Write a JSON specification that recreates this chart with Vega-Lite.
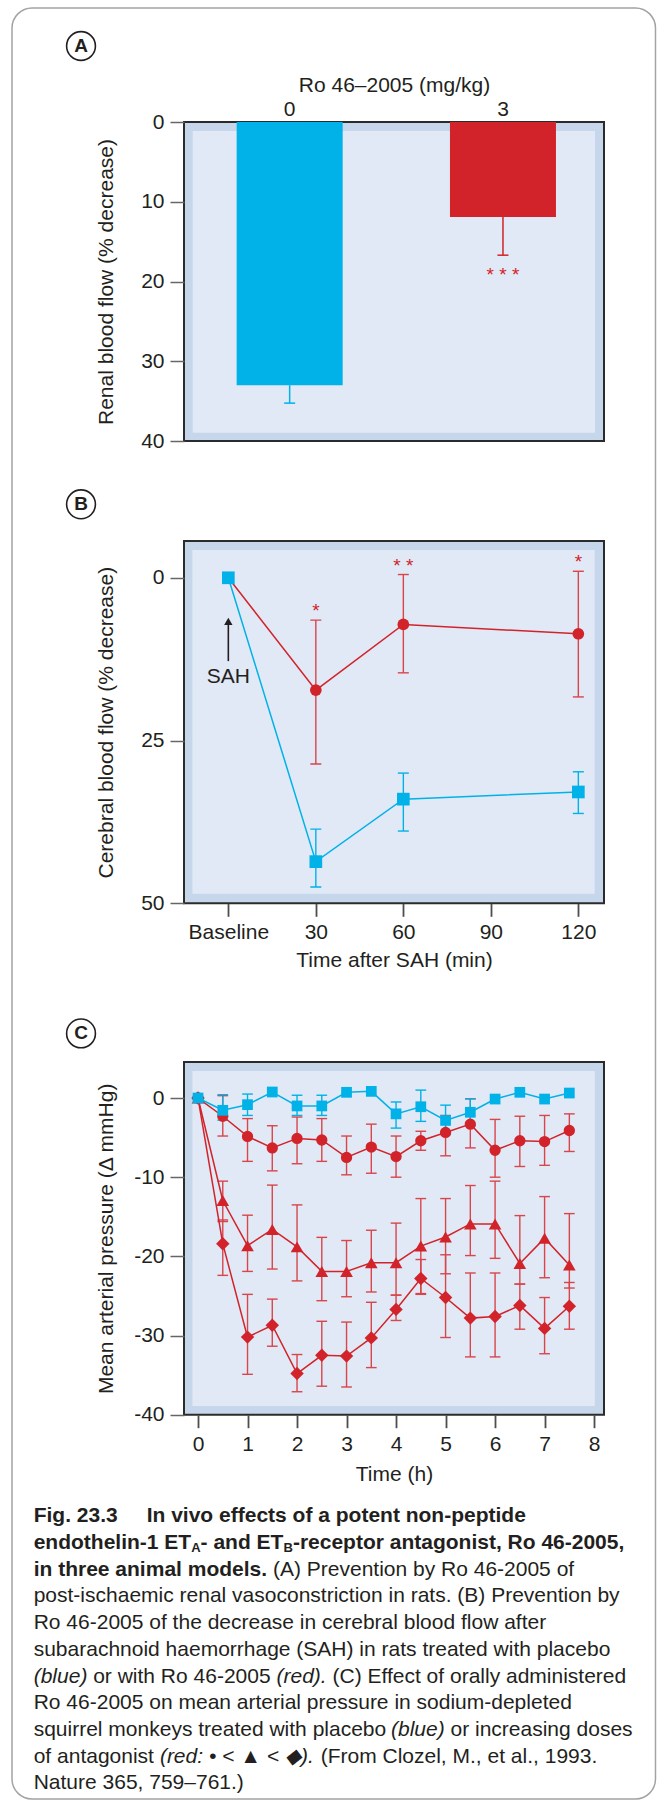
{
  "$schema": "https://vega.github.io/schema/vega-lite/v6.json",
  "background": "white",
  "padding": {"left": 10, "top": 6, "right": 0, "bottom": 0},
  "bounds": "flush",
  "spacing": 0,
  "config": {
    "font": "Liberation Sans",
    "view": {"fill": "#c6d7ec", "stroke": "#2b2b2b", "strokeWidth": 2},
    "axis": {"grid": false, "domain": false, "labelFont": "Liberation Sans", "titleFont": "Liberation Sans", "labelColor": "#231f20", "titleColor": "#231f20", "labelFontSize": 21, "titleFontSize": 21, "titleFontWeight": "normal", "tickColor": "#666666", "tickWidth": 1.5, "labelFlush": false, "labelOverlap": false},
    "text": {"font": "Liberation Sans", "color": "#231f20"}
  },
  "vconcat": [
    {
      "width": 420,
      "height": 319,
      "resolve": {"scale": {"x": "independent"}},
      "layer": [
        {
          "data": {"values": [{}]},
          "layer": [
            {
              "mark": {"type": "rect", "fill": "#e0e9f5"},
              "encoding": {
                "x": {"datum": 0.0207, "type": "quantitative", "scale": {"domain": [0, 1], "nice": false, "zero": false}, "axis": null},
                "x2": {"datum": 0.9786},
                "y": {"datum": 1.13, "type": "quantitative"},
                "y2": {"datum": 38.96}
              }
            },
            {
              "mark": {"type": "rect", "fill": "#ffffff", "fillOpacity": 0, "stroke": "#a3a3a3", "strokeWidth": 1.5, "cornerRadius": 20},
              "encoding": {
                "x": {"datum": -0.4095, "type": "quantitative", "axis": null},
                "x2": {"datum": 1.1226},
                "y": {"datum": -14.29, "type": "quantitative"},
                "y2": {"datum": 210.28}
              }
            },
            {
              "mark": {"type": "point", "shape": "circle", "filled": false, "size": 830, "strokeWidth": 1.6, "color": "#231f20", "opacity": 1},
              "encoding": {
                "x": {"datum": -0.2452, "type": "quantitative", "axis": null},
                "y": {"datum": -9.53, "type": "quantitative"}
              }
            },
            {
              "mark": {"type": "text", "text": "A", "fontSize": 19, "fontWeight": "bold", "color": "#231f20"},
              "encoding": {
                "x": {"datum": -0.2452, "type": "quantitative", "axis": null},
                "y": {"datum": -9.53, "type": "quantitative"}
              }
            }
          ]
        },
        {
          "data": {"values": [
            {"dose": "0", "flow": 33.0, "hi": 35.25, "sig": null},
            {"dose": "3", "flow": 11.9, "hi": 16.7, "sig": "* * *"}
          ]},
          "encoding": {
            "x": {"field": "dose", "type": "nominal", "scale": {"paddingInner": 0.503, "paddingOuter": 0.236, "align": 0.523}, "axis": {"orient": "top", "ticks": false, "labelAngle": 0, "labelPadding": 3, "titlePadding": 3, "title": "Ro 46–2005 (mg/kg)"}},
            "color": {"condition": {"test": "datum.dose === '3'", "value": "#d2232a"}, "value": "#00b2e8"}
          },
          "layer": [
            {
              "mark": {"type": "bar"},
              "encoding": {
                "y": {"field": "flow", "type": "quantitative", "scale": {"domain": [0, 40], "reverse": true, "nice": false}, "axis": {"values": [0, 10, 20, 30, 40], "tickSize": 14, "labelPadding": 6, "title": "Renal blood flow (% decrease)", "titleX": -68}}
              }
            },
            {
              "mark": {"type": "rule", "strokeWidth": 1.5},
              "encoding": {
                "y": {"field": "flow", "type": "quantitative"},
                "y2": {"field": "hi"}
              }
            },
            {
              "mark": {"type": "tick", "orient": "horizontal", "thickness": 1.5, "size": 11, "opacity": 1},
              "encoding": {
                "y": {"field": "hi", "type": "quantitative"}
              }
            },
            {
              "transform": [{"filter": "isValid(datum.sig)"}],
              "mark": {"type": "text", "fontSize": 19, "dy": 20},
              "encoding": {
                "y": {"field": "hi", "type": "quantitative"},
                "text": {"field": "sig"}
              }
            }
          ]
        }
      ]
    },
    {
      "width": 420,
      "height": 100,
      "view": {"stroke": null, "fill": null},
      "data": {"values": [{}]},
      "encoding": {
        "x": {"datum": -0.2452, "type": "quantitative", "scale": {"domain": [0, 1], "nice": false, "zero": false}, "axis": null},
        "y": {"datum": 0.633, "type": "quantitative", "scale": {"domain": [0, 1], "reverse": true, "nice": false, "zero": false}, "axis": null}
      },
      "layer": [
        {"mark": {"type": "point", "shape": "circle", "filled": false, "size": 830, "strokeWidth": 1.6, "color": "#231f20", "opacity": 1}},
        {"mark": {"type": "text", "text": "B", "fontSize": 19, "fontWeight": "bold", "color": "#231f20"}}
      ]
    },
    {
      "width": 420,
      "height": 362.3,
      "layer": [
        {
          "data": {"values": [{}]},
          "mark": {"type": "rect", "fill": "#e0e9f5"},
          "encoding": {
            "x": {"datum": -12.32, "type": "quantitative"},
            "x2": {"datum": 125.6},
            "y": {"datum": -4.27, "type": "quantitative"},
            "y2": {"datum": 48.53}
          }
        },
        {
          "data": {"values": [
            {"g": "Ro", "t": 0, "v": 0},
            {"g": "Ro", "t": 30, "v": 17.25, "lo": 6.5, "hi": 28.6, "sig": "*"},
            {"g": "Ro", "t": 60, "v": 7.17, "lo": -0.5, "hi": 14.6, "sig": "* *"},
            {"g": "Ro", "t": 120, "v": 8.6, "lo": -1.0, "hi": 18.3, "sig": "*"},
            {"g": "Placebo", "t": 0, "v": 0},
            {"g": "Placebo", "t": 30, "v": 43.6, "lo": 38.6, "hi": 47.5},
            {"g": "Placebo", "t": 60, "v": 34.0, "lo": 30.0, "hi": 38.9},
            {"g": "Placebo", "t": 120, "v": 32.9, "lo": 29.8, "hi": 36.2}
          ]},
          "encoding": {
            "x": {"field": "t", "type": "quantitative", "scale": {"domain": [-15.2, 128.8], "nice": false, "zero": false}, "axis": {"values": [0, 30, 60, 90, 120], "labelExpr": "datum.value === 0 ? 'Baseline' : datum.label", "tickSize": 13, "tickColor": "#4d4d4d", "tickWidth": 1.8, "labelPadding": 5, "titlePadding": 7, "title": "Time after SAH (min)"}},
            "y": {"field": "v", "type": "quantitative", "scale": {"domain": [-5.65, 50], "reverse": true, "nice": false, "zero": false}, "axis": {"values": [0, 25, 50], "tickSize": 14, "labelPadding": 6, "title": "Cerebral blood flow (% decrease)", "titleX": -68}}
          },
          "layer": [
            {
              "transform": [{"filter": "isValid(datum.lo)"}],
              "mark": {"type": "rule", "strokeWidth": 1.4},
              "encoding": {
                "y": {"field": "lo", "type": "quantitative"},
                "y2": {"field": "hi"},
                "color": {"condition": {"test": "datum.g === 'Placebo'", "value": "#00b2e8"}, "value": "#d9454b"}
              }
            },
            {
              "transform": [{"filter": "isValid(datum.lo)"}, {"fold": ["lo", "hi"], "as": ["end", "ev"]}],
              "mark": {"type": "tick", "orient": "horizontal", "size": 11, "thickness": 1.4, "opacity": 1},
              "encoding": {
                "y": {"field": "ev", "type": "quantitative"},
                "color": {"condition": {"test": "datum.g === 'Placebo'", "value": "#00b2e8"}, "value": "#d9454b"}
              }
            },
            {
              "transform": [{"filter": "datum.g === 'Ro'"}],
              "mark": {"type": "line", "strokeWidth": 1.5, "color": "#d2232a"}
            },
            {
              "transform": [{"filter": "datum.g === 'Placebo'"}],
              "mark": {"type": "line", "strokeWidth": 1.5, "color": "#00b2e8"}
            },
            {
              "transform": [{"filter": "datum.g === 'Ro'"}],
              "mark": {"type": "point", "shape": "circle", "filled": true, "size": 137, "opacity": 1, "color": "#d2232a"}
            },
            {
              "transform": [{"filter": "datum.g === 'Placebo'"}],
              "mark": {"type": "point", "shape": "square", "filled": true, "size": 161, "opacity": 1, "color": "#00b2e8"}
            },
            {
              "transform": [{"filter": "isValid(datum.sig)"}],
              "mark": {"type": "text", "fontSize": 19, "dy": -9, "color": "#d2232a"},
              "encoding": {
                "y": {"field": "lo", "type": "quantitative"},
                "text": {"field": "sig"}
              }
            }
          ]
        },
        {
          "data": {"values": [{}]},
          "mark": {"type": "rule", "strokeWidth": 1.6, "color": "#231f20"},
          "encoding": {
            "x": {"datum": 0, "type": "quantitative"},
            "y": {"datum": 6.9, "type": "quantitative"},
            "y2": {"datum": 12.8}
          }
        },
        {
          "data": {"values": [{}]},
          "mark": {"type": "point", "shape": "triangle-up", "filled": true, "size": 70, "opacity": 1, "color": "#231f20"},
          "encoding": {
            "x": {"datum": 0, "type": "quantitative"},
            "y": {"datum": 6.7, "type": "quantitative"}
          }
        },
        {
          "data": {"values": [{}]},
          "mark": {"type": "text", "text": "SAH", "fontSize": 21, "color": "#231f20"},
          "encoding": {
            "x": {"datum": 0, "type": "quantitative"},
            "y": {"datum": 15.2, "type": "quantitative"}
          }
        }
      ]
    },
    {
      "width": 420,
      "height": 157.7,
      "view": {"stroke": null, "fill": null},
      "data": {"values": [{}]},
      "encoding": {
        "x": {"datum": -0.2452, "type": "quantitative", "scale": {"domain": [0, 1], "nice": false, "zero": false}, "axis": null},
        "y": {"datum": 0.8206, "type": "quantitative", "scale": {"domain": [0, 1], "reverse": true, "nice": false, "zero": false}, "axis": null}
      },
      "layer": [
        {"mark": {"type": "point", "shape": "circle", "filled": false, "size": 830, "strokeWidth": 1.6, "color": "#231f20", "opacity": 1}},
        {"mark": {"type": "text", "text": "C", "fontSize": 19, "fontWeight": "bold", "color": "#231f20"}}
      ]
    },
    {
      "width": 420,
      "height": 352.7,
      "layer": [
        {
          "data": {"values": [{}]},
          "mark": {"type": "rect", "fill": "#e0e9f5"},
          "encoding": {
            "x": {"datum": -0.113, "type": "quantitative"},
            "x2": {"datum": 8.014},
            "y": {"datum": 3.41, "type": "quantitative"},
            "y2": {"datum": -38.9}
          }
        },
        {
          "data": {"values": [
            {"g": "low", "t": 0, "v": 0},
            {"g": "low", "t": 0.5, "v": -2.3, "lo": -4.8, "hi": 0.3},
            {"g": "low", "t": 1, "v": -4.85, "lo": -8.0, "hi": -2.6},
            {"g": "low", "t": 1.5, "v": -6.3, "lo": -9.2, "hi": -3.5},
            {"g": "low", "t": 2, "v": -5.1, "lo": -8.3, "hi": -2.4},
            {"g": "low", "t": 2.5, "v": -5.3, "lo": -8.0, "hi": -2.6},
            {"g": "low", "t": 3, "v": -7.5, "lo": -9.7, "hi": -4.8},
            {"g": "low", "t": 3.5, "v": -6.2, "lo": -9.5, "hi": -3.3},
            {"g": "low", "t": 4, "v": -7.4, "lo": -10.0, "hi": -4.8},
            {"g": "low", "t": 4.5, "v": -5.4, "lo": -6.6, "hi": -4.2},
            {"g": "low", "t": 5, "v": -4.35, "lo": -7.3, "hi": -2.2},
            {"g": "low", "t": 5.5, "v": -3.3, "lo": -6.3, "hi": -0.1},
            {"g": "low", "t": 6, "v": -6.6, "lo": -10.0, "hi": -2.7},
            {"g": "low", "t": 6.5, "v": -5.4, "lo": -8.65, "hi": -2.3},
            {"g": "low", "t": 7, "v": -5.5, "lo": -8.5, "hi": -2.2},
            {"g": "low", "t": 7.5, "v": -4.1, "lo": -6.75, "hi": -2.0},
            {"g": "mid", "t": 0, "v": 0},
            {"g": "mid", "t": 0.5, "v": -12.95, "lo": -15.6, "hi": -10.5},
            {"g": "mid", "t": 1, "v": -18.65, "lo": -21.9, "hi": -14.8},
            {"g": "mid", "t": 1.5, "v": -16.6, "lo": -21.6, "hi": -11.0},
            {"g": "mid", "t": 2, "v": -18.8, "lo": -23.1, "hi": -13.5},
            {"g": "mid", "t": 2.5, "v": -21.9, "lo": -25.6, "hi": -17.6},
            {"g": "mid", "t": 3, "v": -21.9, "lo": -25.1, "hi": -18.0},
            {"g": "mid", "t": 3.5, "v": -20.8, "lo": -24.5, "hi": -16.7},
            {"g": "mid", "t": 4, "v": -20.8, "lo": -24.9, "hi": -15.8},
            {"g": "mid", "t": 4.5, "v": -18.7, "lo": -24.7, "hi": -12.7},
            {"g": "mid", "t": 5, "v": -17.55, "lo": -22.2, "hi": -12.7},
            {"g": "mid", "t": 5.5, "v": -15.9, "lo": -19.9, "hi": -11.05},
            {"g": "mid", "t": 6, "v": -15.9, "lo": -20.25, "hi": -10.5},
            {"g": "mid", "t": 6.5, "v": -20.9, "lo": -23.5, "hi": -14.85},
            {"g": "mid", "t": 7, "v": -17.7, "lo": -22.7, "hi": -12.45},
            {"g": "mid", "t": 7.5, "v": -21.1, "lo": -24.0, "hi": -14.6},
            {"g": "high", "t": 0, "v": 0},
            {"g": "high", "t": 0.5, "v": -18.4, "lo": -22.4, "hi": -15.4},
            {"g": "high", "t": 1, "v": -30.2, "lo": -34.9, "hi": -24.8},
            {"g": "high", "t": 1.5, "v": -28.7, "lo": -31.35, "hi": -25.4},
            {"g": "high", "t": 2, "v": -34.8, "lo": -37.1, "hi": -32.4},
            {"g": "high", "t": 2.5, "v": -32.5, "lo": -36.4, "hi": -28.2},
            {"g": "high", "t": 3, "v": -32.6, "lo": -36.5, "hi": -28.3},
            {"g": "high", "t": 3.5, "v": -30.3, "lo": -34.05, "hi": -25.8},
            {"g": "high", "t": 4, "v": -26.7, "lo": -28.1, "hi": -24.9},
            {"g": "high", "t": 4.5, "v": -22.8, "lo": -24.8, "hi": -20.4},
            {"g": "high", "t": 5, "v": -25.2, "lo": -30.25, "hi": -19.8},
            {"g": "high", "t": 5.5, "v": -27.8, "lo": -32.7, "hi": -22.1},
            {"g": "high", "t": 6, "v": -27.6, "lo": -32.7, "hi": -22.1},
            {"g": "high", "t": 6.5, "v": -26.2, "lo": -29.2, "hi": -23.5},
            {"g": "high", "t": 7, "v": -29.1, "lo": -32.3, "hi": -25.2},
            {"g": "high", "t": 7.5, "v": -26.3, "lo": -29.2, "hi": -23.3},
            {"g": "placebo", "t": 0, "v": 0},
            {"g": "placebo", "t": 0.5, "v": -1.55, "lo": -2.8, "hi": 0.42},
            {"g": "placebo", "t": 1, "v": -0.84, "lo": -2.2, "hi": 0.5},
            {"g": "placebo", "t": 1.5, "v": 0.76},
            {"g": "placebo", "t": 2, "v": -1.0, "lo": -2.2, "hi": 0.35},
            {"g": "placebo", "t": 2.5, "v": -1.0, "lo": -2.2, "hi": 0.35},
            {"g": "placebo", "t": 3, "v": 0.72},
            {"g": "placebo", "t": 3.5, "v": 0.84},
            {"g": "placebo", "t": 4, "v": -2.0, "lo": -3.8, "hi": -0.5},
            {"g": "placebo", "t": 4.5, "v": -1.1, "lo": -2.95, "hi": 1.0},
            {"g": "placebo", "t": 5, "v": -2.83, "lo": -4.6, "hi": -0.9},
            {"g": "placebo", "t": 5.5, "v": -1.8, "lo": -3.5, "hi": -0.1},
            {"g": "placebo", "t": 6, "v": -0.13},
            {"g": "placebo", "t": 6.5, "v": 0.72},
            {"g": "placebo", "t": 7, "v": -0.13},
            {"g": "placebo", "t": 7.5, "v": 0.63}
          ]},
          "encoding": {
            "x": {"field": "t", "type": "quantitative", "scale": {"domain": [-0.283, 8.2], "nice": false, "zero": false}, "axis": {"values": [0, 1, 2, 3, 4, 5, 6, 7, 8], "tickSize": 13, "tickColor": "#4d4d4d", "tickWidth": 1.8, "labelPadding": 6, "titlePadding": 9, "title": "Time (h)"}},
            "y": {"field": "v", "type": "quantitative", "scale": {"domain": [-40, 4.55], "nice": false, "zero": false}, "axis": {"values": [0, -10, -20, -30, -40], "labelExpr": "'' + datum.value", "tickSize": 14, "labelPadding": 6, "title": "Mean arterial pressure (Δ mmHg)", "titleX": -68}}
          },
          "layer": [
            {
              "transform": [{"filter": "isValid(datum.lo)"}],
              "mark": {"type": "rule", "strokeWidth": 1.4},
              "encoding": {
                "y": {"field": "lo", "type": "quantitative"},
                "y2": {"field": "hi"},
                "color": {"condition": {"test": "datum.g === 'placebo'", "value": "#00b2e8"}, "value": "#d9454b"}
              }
            },
            {
              "transform": [{"filter": "isValid(datum.lo)"}, {"fold": ["lo", "hi"], "as": ["end", "ev"]}],
              "mark": {"type": "tick", "orient": "horizontal", "size": 10.7, "thickness": 1.4, "opacity": 1},
              "encoding": {
                "y": {"field": "ev", "type": "quantitative"},
                "color": {"condition": {"test": "datum.g === 'placebo'", "value": "#00b2e8"}, "value": "#d9454b"}
              }
            },
            {
              "transform": [{"filter": "datum.g !== 'placebo'"}],
              "mark": {"type": "line", "strokeWidth": 1.5, "color": "#d2232a"},
              "encoding": {"detail": {"field": "g"}}
            },
            {
              "transform": [{"filter": "datum.g === 'low'"}],
              "mark": {"type": "point", "shape": "circle", "filled": true, "size": 128, "opacity": 1, "color": "#d2232a"}
            },
            {
              "transform": [{"filter": "datum.g === 'mid'"}],
              "mark": {"type": "point", "shape": "triangle-up", "filled": true, "size": 160, "opacity": 1, "color": "#d2232a"}
            },
            {
              "transform": [{"filter": "datum.g === 'high'"}],
              "mark": {"type": "point", "shape": "diamond", "filled": true, "size": 180, "opacity": 1, "color": "#d2232a"}
            },
            {
              "transform": [{"filter": "datum.g === 'placebo'"}],
              "mark": {"type": "line", "strokeWidth": 1.5, "color": "#00b2e8"}
            },
            {
              "transform": [{"filter": "datum.g === 'placebo'"}],
              "mark": {"type": "point", "shape": "square", "filled": true, "size": 115, "opacity": 1, "color": "#00b2e8"}
            }
          ]
        }
      ]
    },
    {
      "width": 420,
      "height": 382.3,
      "view": {"stroke": null, "fill": null},
      "data": {"values": [
        {"line": 1, "part": "b0", "text": "Fig. 23.3"},
        {"line": 1, "part": "b1", "text": "In vivo effects of a potent non-peptide"},
        {"line": 2, "part": "b0", "text": "endothelin-1 ET"},
        {"line": 2, "part": "s1", "text": "A"},
        {"line": 2, "part": "b2", "text": "- and ET"},
        {"line": 2, "part": "s2", "text": "B"},
        {"line": 2, "part": "b3", "text": "-receptor antagonist, Ro 46-2005,"},
        {"line": 3, "part": "b0", "text": "in three animal models."},
        {"line": 3, "part": "r3", "text": "(A) Prevention by Ro 46-2005 of"},
        {"line": 4, "part": "r0", "text": "post-ischaemic renal vasoconstriction in rats. (B) Prevention by"},
        {"line": 5, "part": "r0", "text": "Ro 46-2005 of the decrease in cerebral blood flow after"},
        {"line": 6, "part": "r0", "text": "subarachnoid haemorrhage (SAH) in rats treated with placebo"},
        {"line": 7, "part": "i0", "text": "(blue)"},
        {"line": 7, "part": "r7b", "text": "or with Ro 46-2005"},
        {"line": 7, "part": "i7c", "text": "(red)."},
        {"line": 7, "part": "r7d", "text": "(C) Effect of orally administered"},
        {"line": 8, "part": "r0", "text": "Ro 46-2005 on mean arterial pressure in sodium-depleted"},
        {"line": 9, "part": "r0", "text": "squirrel monkeys treated with placebo"},
        {"line": 9, "part": "i9b", "text": "(blue)"},
        {"line": 9, "part": "r9c", "text": "or increasing doses"},
        {"line": 10, "part": "r0", "text": "of antagonist"},
        {"line": 10, "part": "i10b", "text": "(red: • < ▲ < ◆)."},
        {"line": 10, "part": "r10c", "text": "(From Clozel, M., et al., 1993."},
        {"line": 11, "part": "r0", "text": "Nature 365, 759–761.)"}
      ]},
      "encoding": {
        "x": {"datum": -0.3579, "type": "quantitative", "scale": {"domain": [0, 1], "nice": false, "zero": false}, "axis": null},
        "y": {"field": "line", "type": "quantitative", "scale": {"domain": [-2.794, 11.524], "reverse": true, "nice": false, "zero": false}, "axis": null},
        "text": {"field": "text"}
      },
      "layer": [
        {"transform": [{"filter": "datum.part === 'b0'"}], "mark": {"type": "text", "align": "left", "baseline": "middle", "fontSize": 21, "fontWeight": "bold", "color": "#231f20"}},
        {"transform": [{"filter": "datum.part === 'b1'"}], "mark": {"type": "text", "align": "left", "baseline": "middle", "fontSize": 21, "fontWeight": "bold", "dx": 113, "color": "#231f20"}},
        {"transform": [{"filter": "datum.part === 's1'"}], "mark": {"type": "text", "align": "left", "baseline": "middle", "fontSize": 13, "fontWeight": "bold", "dx": 157.5, "dy": 5, "color": "#231f20"}},
        {"transform": [{"filter": "datum.part === 'b2'"}], "mark": {"type": "text", "align": "left", "baseline": "middle", "fontSize": 21, "fontWeight": "bold", "dx": 166.9, "color": "#231f20"}},
        {"transform": [{"filter": "datum.part === 's2'"}], "mark": {"type": "text", "align": "left", "baseline": "middle", "fontSize": 13, "fontWeight": "bold", "dx": 249.8, "dy": 5, "color": "#231f20"}},
        {"transform": [{"filter": "datum.part === 'b3'"}], "mark": {"type": "text", "align": "left", "baseline": "middle", "fontSize": 21, "fontWeight": "bold", "dx": 259.2, "color": "#231f20"}},
        {"transform": [{"filter": "datum.part === 'r3'"}], "mark": {"type": "text", "align": "left", "baseline": "middle", "fontSize": 21, "dx": 239.3, "color": "#231f20"}},
        {"transform": [{"filter": "datum.part === 'r0'"}], "mark": {"type": "text", "align": "left", "baseline": "middle", "fontSize": 21, "color": "#231f20"}},
        {"transform": [{"filter": "datum.part === 'i0'"}], "mark": {"type": "text", "align": "left", "baseline": "middle", "fontSize": 21, "fontStyle": "italic", "color": "#231f20"}},
        {"transform": [{"filter": "datum.part === 'r7b'"}], "mark": {"type": "text", "align": "left", "baseline": "middle", "fontSize": 21, "dx": 59.5, "color": "#231f20"}},
        {"transform": [{"filter": "datum.part === 'i7c'"}], "mark": {"type": "text", "align": "left", "baseline": "middle", "fontSize": 21, "fontStyle": "italic", "dx": 242.8, "color": "#231f20"}},
        {"transform": [{"filter": "datum.part === 'r7d'"}], "mark": {"type": "text", "align": "left", "baseline": "middle", "fontSize": 21, "dx": 298.8, "color": "#231f20"}},
        {"transform": [{"filter": "datum.part === 'i9b'"}], "mark": {"type": "text", "align": "left", "baseline": "middle", "fontSize": 21, "fontStyle": "italic", "dx": 357.3, "color": "#231f20"}},
        {"transform": [{"filter": "datum.part === 'r9c'"}], "mark": {"type": "text", "align": "left", "baseline": "middle", "fontSize": 21, "dx": 416.8, "color": "#231f20"}},
        {"transform": [{"filter": "datum.part === 'i10b'"}], "mark": {"type": "text", "align": "left", "baseline": "middle", "fontSize": 21, "fontStyle": "italic", "dx": 126.2, "color": "#231f20"}},
        {"transform": [{"filter": "datum.part === 'r10c'"}], "mark": {"type": "text", "align": "left", "baseline": "middle", "fontSize": 21, "dx": 287, "color": "#231f20"}}
      ]
    }
  ]
}
